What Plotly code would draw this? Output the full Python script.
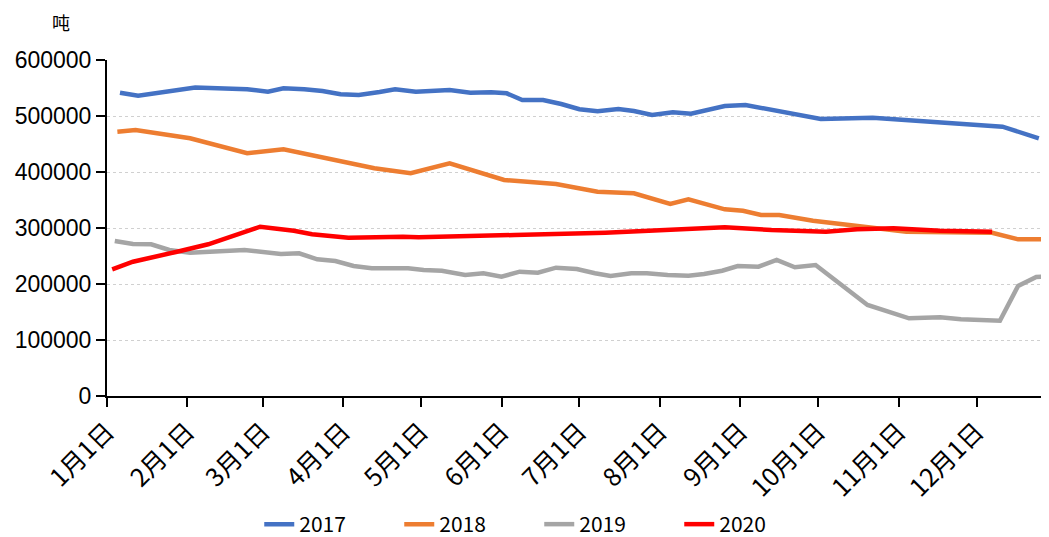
import pandas as pd
import plotly.graph_objects as go

# day-of-year offsets (from Jan 1) and stock values in tonnes
days_2017 = [5, 12, 34, 54, 62, 68, 76, 83, 90, 97, 105, 111, 119, 127, 132, 140, 148, 154, 160,
             168, 175, 182, 189, 197, 203, 210, 218, 225, 232, 238, 246, 275, 295, 316, 332, 345, 359]
vals_2017 = [541600, 536100, 551000, 547700, 543400, 549500, 547700, 544600, 538700, 537500,
             542900, 547700, 543400, 546400, 546400, 541600, 542300, 540500, 528600, 528600,
             521400, 512000, 508400, 512500, 508900, 501800, 506600, 504100, 512000, 517900,
             519600, 494600, 496900, 491000, 485200, 480900, 460200]

days_2018 = [4, 11, 32, 54, 68, 88, 103, 117, 132, 153, 173, 189, 203, 217, 224, 238, 245, 252,
             259, 272, 286, 293, 308, 341, 351, 365]
vals_2018 = [472000, 475000, 460200, 433400, 440500, 421400, 406600, 397700, 415500, 385700,
             378600, 364800, 362000, 342900, 351300, 333400, 330900, 323200, 323200, 313000,
             305400, 301300, 293400, 291600, 279800, 279800]

days_2019 = [3, 10, 17, 24, 32, 53, 67, 74, 81, 88, 95, 102, 116, 122, 129, 138, 145, 152, 159,
             166, 173, 181, 188, 194, 202, 208, 216, 224, 230, 237, 243, 251, 258, 265, 273, 283,
             293, 309, 321, 329, 344, 351, 358, 365]
vals_2019 = [276800, 271400, 270900, 260700, 255900, 260700, 253600, 254800, 244100, 241100,
             232100, 228000, 228000, 225000, 223700, 216100, 219100, 213000, 222000, 220200,
             229100, 226800, 219100, 214300, 219100, 219100, 216100, 214800, 217900, 223700,
             232100, 230900, 242900, 229800, 233900, 198200, 162500, 138700, 140500, 137000,
             134500, 196400, 212500, 214300]

days_2020 = [2, 10, 27, 39, 59, 72, 79, 93, 114, 120, 157, 192, 238, 256, 277, 289, 303, 321, 341]
vals_2020 = [226200, 239800, 257700, 270900, 302300, 295200, 288700, 282700, 284500, 283400,
             287500, 291600, 301200, 296400, 293400, 297700, 299500, 295200, 293400]

series = [
    ("2017", days_2017, vals_2017, "#4472C4"),
    ("2018", days_2018, vals_2018, "#ED7D31"),
    ("2019", days_2019, vals_2019, "#A5A5A5"),
    ("2020", days_2020, vals_2020, "#FF0000"),
]

month_ticks = pd.date_range("2020-01-01", "2021-01-01", freq="MS")
month_labels = [f"{d.month}月1日" for d in month_ticks[:-1]] + [""]

base = pd.Timestamp("2020-01-01")

fig = go.Figure()
for name, days, vals, color in series:
    fig.add_trace(go.Scatter(
        x=base + pd.to_timedelta(days, unit="D"),
        y=vals,
        mode="lines",
        name=name,
        line=dict(color=color, width=4.5),
    ))

fig.update_layout(
    width=1049,
    height=537,
    margin=dict(l=99, r=0, t=52, b=141),
    paper_bgcolor="white",
    plot_bgcolor="white",
    font=dict(family="Liberation Sans, Arial", color="#000000"),
    legend=dict(
        orientation="h",
        x=0.455, xanchor="center",
        y=-0.384, yanchor="middle",
        font=dict(size=21, family="Noto Sans CJK SC"),
        entrywidth=95,
    ),
    xaxis=dict(
        range=["2020-01-01", "2021-01-01"],
        tickvals=month_ticks,
        ticktext=month_labels,
        tickangle=-45,
        tickfont=dict(size=25, family="Noto Sans CJK SC"),
        showgrid=False,
        showline=True,
        linecolor="black",
        linewidth=2,
        ticks="outside",
        ticklen=9,
        tickwidth=2,
        tickcolor="black",
        zeroline=False,
        automargin=False,
    ),
    yaxis=dict(
        range=[0, 600000],
        tickvals=[0, 100000, 200000, 300000, 400000, 500000, 600000],
        tickformat="d",
        tickfont=dict(size=23),
        showgrid=True,
        gridcolor="#D0D0D0",
        griddash="dot",
        gridwidth=1.2,
        showline=True,
        linecolor="black",
        linewidth=2,
        ticks="outside",
        ticklen=9,
        tickwidth=2,
        tickcolor="black",
        zeroline=False,
        automargin=False,
    ),
    annotations=[dict(
        text="吨", xref="paper", yref="paper", x=-0.048, y=1.113,
        xanchor="center", yanchor="middle", showarrow=False,
        font=dict(size=18, family="Noto Sans CJK SC"),
    )],
)

fig.write_html("out.html")
